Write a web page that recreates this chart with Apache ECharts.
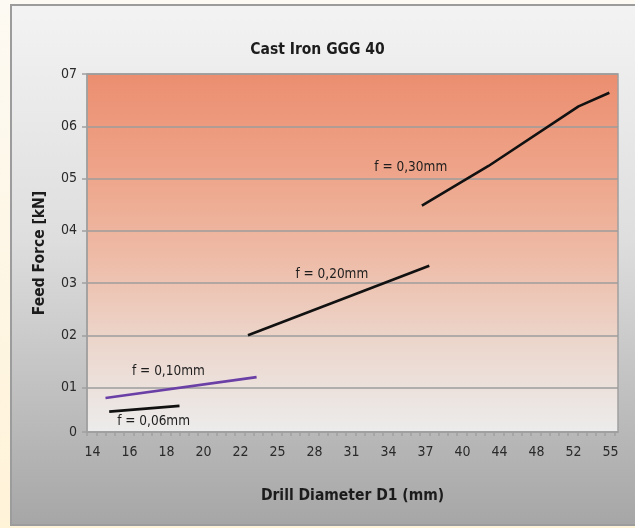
<!DOCTYPE html>
<html>
<head>
<meta charset="utf-8">
<script src="https://cdn.jsdelivr.net/npm/echarts@6/dist/echarts.min.js"></script>
<style>
html,body{margin:0;padding:0;background:#fff;}
#chart{width:635px;height:528px;}
</style>
</head>
<body>
<div id="chart"></div>
<script>
// Tick labels of the (equally spaced) diameter axis
var X_TICKS = [14, 16, 18, 20, 22, 25, 28, 31, 34, 37, 40, 44, 48, 52, 55];
// Y tick labels
var Y_TICKS = [1, 2, 3, 4, 5, 6, 7];
var Y_BOTTOM = 0.15;

// Series: [drill diameter (mm), feed force]
var F006 = [[14.9, 0.54], [18.7, 0.65]];
var F010 = [[14.7, 0.80], [23.3, 1.20]];
var F020 = [[22.6, 2.00], [37.3, 3.33]];
var F030 = [[36.7, 4.48], [42.8, 5.24], [52.4, 6.38], [54.9, 6.64]];

// Annotation texts and where they sit (diameter, force)
var NOTE_TEXT = ['f = 0,06mm', 'f = 0,10mm', 'f = 0,20mm', 'f = 0,30mm'];
var NOTE_AT = [[17.3, 0.35], [18.1, 1.31], [29.4, 3.17], [35.8, 5.21]];

// map diameter onto the evenly spaced label axis
function toAxis(d) {
  for (var i = 0; i < X_TICKS.length - 1; i++) {
    if (d <= X_TICKS[i + 1]) {
      return i + (d - X_TICKS[i]) / (X_TICKS[i + 1] - X_TICKS[i]);
    }
  }
  return X_TICKS.length - 1;
}
function mapPts(arr) { return arr.map(function (p) { return [toAxis(p[0]), p[1]]; }); }

var FONT = "'Liberation Sans Narrow', 'DejaVu Sans Condensed', 'Liberation Sans', sans-serif";
var X_MIN = -0.15, X_MAX = 14.2;
var xTickVals = [];
for (var t = X_MIN; t <= X_MAX + 1e-6; t += 0.25) xTickVals.push(+t.toFixed(3));
var xLabelVals = X_TICKS.map(function (v, i) { return i; });
var yVals = [Y_BOTTOM].concat(Y_TICKS);

function lineSeries(name, data, color, noteIdx) {
  return {
    name: name,
    type: 'line',
    data: mapPts(data),
    showSymbol: false,
    symbol: 'none',
    lineStyle: { color: color, width: 2.6 },
    markPoint: {
      symbol: 'circle', symbolSize: 0,
      silent: true,
      data: [{
        coord: [toAxis(NOTE_AT[noteIdx][0]), NOTE_AT[noteIdx][1]],
        label: {
          show: true, position: 'inside', formatter: NOTE_TEXT[noteIdx],
          color: '#1e1e1e', fontSize: 13.5, fontFamily: FONT
        }
      }]
    },
    z: 3
  };
}

var chart = echarts.init(document.getElementById('chart'), null, { renderer: 'canvas' });
chart.setOption({
  animation: false,
  backgroundColor: new echarts.graphic.LinearGradient(0, 0, 0, 1, [
    { offset: 0, color: '#fdfaf3' }, { offset: 1, color: '#fff3d8' }
  ]),
  graphic: [{
    type: 'rect', z: -10, silent: true,
    shape: { x: 11, y: 5, width: 640, height: 520 },
    style: {
      fill: new echarts.graphic.LinearGradient(0, 0, 0, 1, [
        { offset: 0, color: '#f3f3f3' }, { offset: 0.45, color: '#dedede' }, { offset: 1, color: '#a6a6a6' }
      ]),
      stroke: '#9c9c9c', lineWidth: 2
    }
  }],
  title: {
    text: 'Cast Iron GGG 40',
    left: 'center', top: 37,
    textStyle: { fontFamily: FONT, fontWeight: 'bold', fontSize: 15.5, color: '#1c1c1c' }
  },
  grid: {
    left: 87, right: 17, top: 74, bottom: 96,
    show: true,
    borderColor: '#a0a0a0', borderWidth: 1.5,
    backgroundColor: new echarts.graphic.LinearGradient(0, 0, 0, 1, [
      { offset: 0, color: '#ec8e70' },
      { offset: 0.25, color: '#eea287' },
      { offset: 0.5, color: '#eebaa5' },
      { offset: 0.75, color: '#ecd6cc' },
      { offset: 1, color: '#ececec' }
    ])
  },
  xAxis: {
    type: 'value', min: X_MIN, max: X_MAX,
    name: 'Drill Diameter D1 (mm)', nameLocation: 'middle', nameGap: 56,
    nameTextStyle: { fontFamily: FONT, fontWeight: 'bold', fontSize: 15.5, color: '#1c1c1c' },
    axisLine: { show: true, onZero: false, lineStyle: { color: '#a0a0a0', width: 1.5 } },
    axisTick: { show: true, customValues: xTickVals, length: 4, lineStyle: { color: '#a0a0a0', width: 1.5 } },
    axisLabel: {
      customValues: xLabelVals, margin: 13,
      formatter: function (v) { return String(X_TICKS[Math.round(v)]); },
      fontFamily: FONT, fontSize: 14, color: '#2a2a2a'
    },
    splitLine: { show: false }
  },
  yAxis: {
    type: 'value', min: Y_BOTTOM, max: 7,
    name: 'Feed Force [kN]', nameLocation: 'middle', nameGap: 39,
    nameTextStyle: { fontFamily: FONT, fontWeight: 'bold', fontSize: 15.5, color: '#1c1c1c' },
    axisLine: { show: true, onZero: false, lineStyle: { color: '#a0a0a0', width: 1.5 } },
    axisTick: { show: true, customValues: yVals, length: 5, lineStyle: { color: '#a0a0a0', width: 1.5 } },
    axisLabel: {
      customValues: yVals, margin: 10,
      formatter: function (v) { return v < 1 ? '0' : '0' + Math.round(v); },
      fontFamily: FONT, fontSize: 14, color: '#2a2a2a'
    },
    splitLine: { show: true, lineStyle: { color: '#9c9c9c', width: 1.5 } }
  },
  series: [
    lineSeries('f = 0,06mm', F006, '#111111', 0),
    lineSeries('f = 0,10mm', F010, '#6a3fa6', 1),
    lineSeries('f = 0,20mm', F020, '#111111', 2),
    lineSeries('f = 0,30mm', F030, '#111111', 3)
  ]
});
</script>
</body>
</html>
